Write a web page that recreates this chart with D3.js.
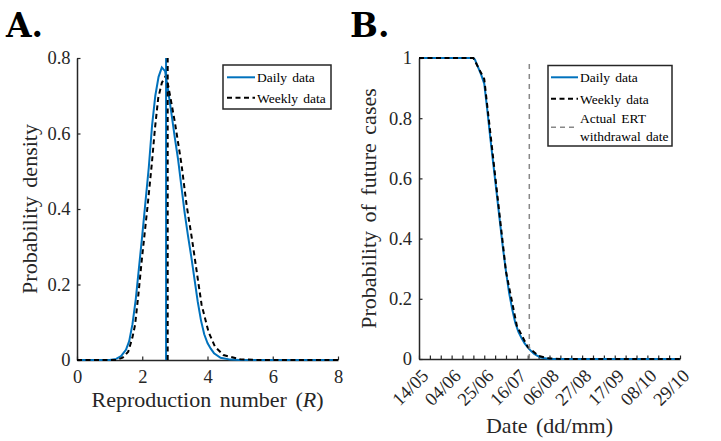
<!DOCTYPE html>
<html>
<head>
<meta charset="utf-8">
<script src="https://d3js.org/d3.v7.min.js"></script>
<style>
body{margin:0;background:#fff;}
svg{display:block;background:#fff;}
.panel{font-family:"DejaVu Serif",serif;font-weight:bold;font-size:33px;fill:#000;}
.lab{font-size:22px;fill:#262626;word-spacing:3px;}
.leg{font-size:13.5px;fill:#000;word-spacing:2px;}
</style>
</head>
<body>
<div id="chart"></div>
<script>
// ---- panel A : posterior of R ----
var rDaily    = [0, 1.0, 1.2, 1.35, 1.5, 1.6, 1.7, 1.8, 1.9, 2.0, 2.1, 2.2, 2.3, 2.4, 2.5, 2.6, 2.7, 2.8, 2.9, 3.0, 3.1, 3.2, 3.3, 3.4, 3.5, 3.6, 3.7, 3.8, 3.9, 4.0, 4.1, 4.2, 4.4, 4.7, 5.0, 8];
var densDaily = [0, 0, 0.003, 0.01, 0.027, 0.05, 0.095, 0.16, 0.245, 0.33, 0.42, 0.51, 0.62, 0.70, 0.75, 0.775, 0.765, 0.71, 0.65, 0.588, 0.53, 0.46, 0.39, 0.33, 0.275, 0.215, 0.155, 0.105, 0.068, 0.045, 0.03, 0.018, 0.006, 0.001, 0, 0];
var rWeekly    = [0, 1.2, 1.4, 1.57, 1.7, 1.78, 1.88, 1.98, 2.16, 2.29, 2.39, 2.49, 2.6, 2.67, 2.72, 2.8, 3.0, 3.2, 3.36, 3.52, 3.67, 3.82, 4.03, 4.23, 4.49, 5.0, 5.5, 8];
var densWeekly = [0, 0, 0.006, 0.022, 0.06, 0.093, 0.172, 0.26, 0.405, 0.517, 0.614, 0.694, 0.734, 0.746, 0.752, 0.725, 0.63, 0.52, 0.41, 0.323, 0.234, 0.146, 0.075, 0.035, 0.013, 0.002, 0, 0];
var meanDaily = 2.73, meanWeekly = 2.78;
var aTicksX = [0, 2, 4, 6, 8];
var aTicksY = [0, 0.2, 0.4, 0.6, 0.8];

// ---- panel B : probability of future cases ----
var startDate = "2018-05-14";
var endDate = "2018-10-29";
var withdrawalDate = "2018-07-24";
var dayDaily  = [0, 35, 36, 38, 40, 42, 44, 46, 48, 50, 52, 54, 56, 58, 60, 62, 64, 66, 68, 70, 72, 74, 76, 78, 80, 83, 88, 168];
var probDaily = [1, 1, 0.995, 0.97, 0.945, 0.915, 0.825, 0.73, 0.64, 0.55, 0.46, 0.37, 0.29, 0.22, 0.165, 0.12, 0.09, 0.07, 0.052, 0.039, 0.027, 0.018, 0.011, 0.006, 0.003, 0.001, 0, 0];
var dayWeekly  = [0, 35, 42, 49, 56, 63, 70, 77, 84, 91, 168];
var probWeekly = [1, 1, 0.93, 0.61, 0.29, 0.11, 0.04, 0.01, 0.002, 0, 0];
var bTicksY = [0, 0.2, 0.4, 0.6, 0.8, 1];

var blue = "#0072BD", axisCol = "#262626";
var serif = '"Liberation Serif", "Times New Roman", serif';
var parse = d3.timeParse("%Y-%m-%d");
var t0 = parse(startDate);

var svg = d3.select("#chart").append("svg").attr("width", 721).attr("height", 441);

svg.append("text").attr("class", "panel").attr("x", 6).attr("y", 37).text("A.");
svg.append("text").attr("class", "panel").attr("x", 350).attr("y", 37).text("B.");

function styleAxis(g) {
	g.select(".domain").attr("stroke", axisCol).attr("stroke-width", 1.5);
	g.selectAll(".tick line").attr("stroke", axisCol).attr("stroke-width", 1.2);
	g.selectAll("text").style("fill", axisCol).style("font-family", serif).style("font-size", "18.5px");
}

// ================= A =================
var xA = d3.scaleLinear().domain([0, 8]).range([77, 338]);
var yA = d3.scaleLinear().domain([0, 0.8]).range([360, 58]);

var gA = svg.append("g");
gA.append("g").attr("transform", "translate(0,360)")
	.call(d3.axisBottom(xA).tickValues(aTicksX).tickFormat(d3.format("")).tickSize(-3.5).tickSizeOuter(0).tickPadding(9.5))
	.call(styleAxis);
gA.append("g").attr("transform", "translate(77,0)")
	.call(d3.axisLeft(yA).tickValues(aTicksY).tickFormat(d3.format("")).tickSize(-3.5).tickSizeOuter(0).tickPadding(6.5))
	.call(styleAxis);

var lineA = d3.line().x(d => xA(d[0])).y(d => yA(d[1]));
gA.append("path").datum(d3.zip(rDaily, densDaily)).attr("d", lineA)
	.attr("fill", "none").attr("stroke", blue).attr("stroke-width", 2);
gA.append("path").datum(d3.zip(rWeekly, densWeekly)).attr("d", lineA)
	.attr("fill", "none").attr("stroke", "#000").attr("stroke-width", 2).attr("stroke-dasharray", "5,3.5");
gA.append("line").attr("x1", xA(meanDaily)).attr("x2", xA(meanDaily)).attr("y1", yA(0)).attr("y2", yA(0.8))
	.attr("stroke", blue).attr("stroke-width", 2);
gA.append("line").attr("x1", xA(meanWeekly)).attr("x2", xA(meanWeekly)).attr("y1", yA(0)).attr("y2", yA(0.8))
	.attr("stroke", "#000").attr("stroke-width", 2).attr("stroke-dasharray", "5,3.5");

gA.append("text").attr("class", "lab").attr("text-anchor", "middle")
	.attr("transform", "translate(37,209) rotate(-90)").text("Probability density");
var xlabA = gA.append("text").attr("class", "lab").attr("text-anchor", "middle").attr("x", 207.5).attr("y", 407);
xlabA.append("tspan").text("Reproduction number (");
xlabA.append("tspan").attr("font-style", "italic").text("R");
xlabA.append("tspan").text(")");

// legend A
var lgA = gA.append("g");
lgA.append("rect").attr("x", 223).attr("y", 65).attr("width", 108).attr("height", 44)
	.attr("fill", "#fff").attr("stroke", axisCol).attr("stroke-width", 1.5);
lgA.append("line").attr("x1", 227).attr("x2", 255).attr("y1", 77.3).attr("y2", 77.3).attr("stroke", blue).attr("stroke-width", 2);
lgA.append("line").attr("x1", 227).attr("x2", 255).attr("y1", 97.7).attr("y2", 97.7).attr("stroke", "#000").attr("stroke-width", 2).attr("stroke-dasharray", "5,3.5");
lgA.append("text").attr("class", "leg").attr("x", 257).attr("y", 82).text("Daily data");
lgA.append("text").attr("class", "leg").attr("x", 257).attr("y", 102.5).text("Weekly data");

// ================= B =================
var xB = d3.scaleTime().domain([t0, parse(endDate)]).range([419, 680]);
var yB = d3.scaleLinear().domain([0, 1]).range([359, 58]);
var weekTicks = d3.range(0, 169, 7).map(k => d3.timeDay.offset(t0, k));
var fmt = d3.timeFormat("%d/%m");

var gB = svg.append("g");
var axB = gB.append("g").attr("transform", "translate(0,359)")
	.call(d3.axisBottom(xB).tickValues(weekTicks)
		.tickFormat((d, i) => i % 3 == 0 ? fmt(d) : "")
		.tickSize(-3.5).tickSizeOuter(0))
	.call(styleAxis);
axB.selectAll("text").attr("x", 0).attr("y", 0).attr("dy", 0)
	.attr("text-anchor", "end").attr("transform", "translate(10,18) rotate(-45)");
gB.append("g").attr("transform", "translate(419,0)")
	.call(d3.axisLeft(yB).tickValues(bTicksY).tickFormat(d3.format("")).tickSize(-3.5).tickSizeOuter(0).tickPadding(7))
	.call(styleAxis);

var lineB = d3.line().x(d => xB(d3.timeDay.offset(t0, d[0]))).y(d => yB(d[1]));
gB.append("path").datum(d3.zip(dayDaily, probDaily)).attr("d", lineB)
	.attr("fill", "none").attr("stroke", blue).attr("stroke-width", 2);
gB.append("path").datum(d3.zip(dayWeekly, probWeekly)).attr("d", lineB)
	.attr("fill", "none").attr("stroke", "#000").attr("stroke-width", 2).attr("stroke-dasharray", "5,3.5");
var wx = xB(parse(withdrawalDate));
gB.append("line").attr("x1", wx).attr("x2", wx).attr("y1", yB(0)).attr("y2", yB(0.99))
	.attr("stroke", "#888").attr("stroke-width", 1.5).attr("stroke-dasharray", "5,5");

gB.append("text").attr("class", "lab").attr("text-anchor", "middle")
	.attr("transform", "translate(376,208.5) rotate(-90)").text("Probability of future cases");
gB.append("text").attr("class", "lab").attr("text-anchor", "middle").attr("x", 549.5).attr("y", 433).text("Date (dd/mm)");

// legend B
var lgB = gB.append("g");
lgB.append("rect").attr("x", 548).attr("y", 65.5).attr("width", 124).attr("height", 80.5)
	.attr("fill", "#fff").attr("stroke", axisCol).attr("stroke-width", 1.5);
lgB.append("line").attr("x1", 551).attr("x2", 578).attr("y1", 77.3).attr("y2", 77.3).attr("stroke", blue).attr("stroke-width", 2);
lgB.append("line").attr("x1", 551).attr("x2", 578).attr("y1", 98.7).attr("y2", 98.7).attr("stroke", "#000").attr("stroke-width", 2).attr("stroke-dasharray", "5,3.5");
lgB.append("line").attr("x1", 551).attr("x2", 578).attr("y1", 127.3).attr("y2", 127.3).attr("stroke", "#888").attr("stroke-width", 1.5).attr("stroke-dasharray", "5,4");
lgB.append("text").attr("class", "leg").attr("x", 580).attr("y", 82).text("Daily data");
lgB.append("text").attr("class", "leg").attr("x", 580).attr("y", 103.5).text("Weekly data");
lgB.append("text").attr("class", "leg").attr("x", 580).attr("y", 122.5).text("Actual ERT");
lgB.append("text").attr("class", "leg").attr("x", 580).attr("y", 141).text("withdrawal date");

svg.selectAll(".lab, .leg").style("font-family", serif);
</script>
</body>
</html>
